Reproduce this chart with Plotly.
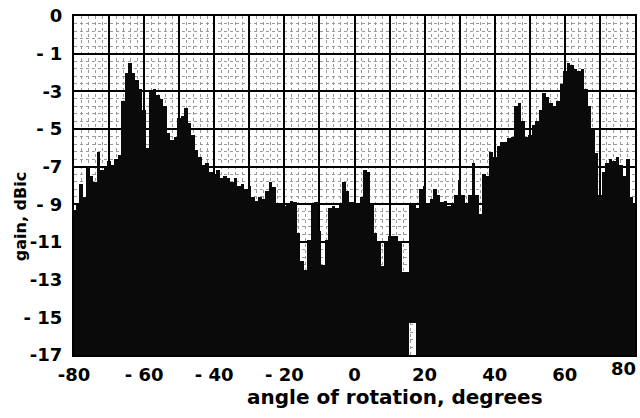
import plotly.graph_objects as go

# angle of rotation, degrees (1-degree steps)
angles = list(range(-80, 81))

# upper envelope of the gain trace, dBic
peak_gain = [
    -9.3, -9.0, -7.9, -8.6, -7.0, -7.5, -7.8, -6.2, -7.2, -7.0,   # -80 .. -71
    -6.7, -6.9, -6.6, -6.4, -3.5, -2.0, -1.5, -2.0, -2.4, -2.9,   # -70 .. -61
    -4.0, -6.0, -3.0, -2.9, -3.2, -3.4, -3.8, -5.2, -5.6, -5.4,   # -60 .. -51
    -4.4, -4.3, -3.9, -4.7, -5.3, -6.1, -6.5, -6.9, -6.8, -7.3,   # -50 .. -41
    -7.4, -7.2, -7.6, -7.5, -7.6, -7.8, -7.6, -8.0, -7.9, -8.2,   # -40 .. -31
    -8.0, -8.6, -8.8, -8.6, -8.7, -8.3, -7.8, -8.1, -9.0, -9.0,   # -30 .. -21
    -9.1, -9.0, -8.8, -8.9, -10.5, -12.0, -12.5, -10.9, -9.0, -8.9,  # -20 .. -11
    -10.4, -12.2, -10.9, -9.2, -9.1, -9.2, -9.0, -7.8, -8.3, -8.9,  # -10 .. -1
    -8.9,                                                          # 0
    -9.0, -8.6, -7.2, -7.3, -9.0, -10.5, -11.0, -12.3, -11.0, -10.7,  # 1 .. 10
    -10.7, -10.7, -11.0, -12.6, -12.6, -9.0, -9.0, -9.2, -8.2, -8.0,  # 11 .. 20
    -9.0, -8.7, -8.2, -8.5, -8.9, -8.8, -9.1, -9.0, -8.5, -7.7,   # 21 .. 30
    -8.5, -9.0, -8.5, -6.8, -8.5, -9.5, -7.4, -7.5, -6.2, -6.5,   # 31 .. 40
    -5.9, -5.7, -5.7, -5.5, -5.4, -3.8, -3.6, -4.6, -5.4, -5.3,   # 41 .. 50
    -4.8, -4.6, -4.0, -3.1, -3.3, -3.6, -3.8, -3.5, -2.6, -1.9,   # 51 .. 60
    -1.5, -1.6, -1.8, -1.9, -1.8, -2.9, -3.8, -5.0, -6.3, -8.5,   # 61 .. 70
    -7.3, -6.8, -6.6, -6.7, -6.5, -6.9, -7.5, -6.6, -8.6, -9.0,   # 71 .. 80
]

# lower envelope of the gain trace, dBic
trough_gain = [-17.0] * len(angles)
trough_gain[angles.index(16)] = -15.3
trough_gain[angles.index(17)] = -15.3

# axis tick labels
x_tick_vals = [-80, -70, -60, -50, -40, -30, -20, -10, 0, 10, 20, 30, 40, 50, 60, 70, 80]
x_tick_text = ["-80", "", "- 60", "", "- 40", "", "- 20", "", "0", "", "20", "", "40", "", "60", "", ""]
x_end_label = "80"
y_tick_vals = [1, -1, -3, -5, -7, -9, -11, -13, -15, -17]
y_tick_text = ["0", "- 1", "-3", "- 5", "-7", "- 9", "-11", "-13", "- 15", "-17"]

assert len(peak_gain) == len(angles)

fig = go.Figure()
fig.add_trace(go.Bar(
    x=angles,
    y=[p - t for p, t in zip(peak_gain, trough_gain)],
    base=trough_gain,
    width=1.0,
    marker=dict(color="#0a0a0a", line=dict(width=0)),
    hoverinfo="skip",
))

tick_font = dict(family="DejaVu Sans", size=18, color="black", weight="bold")

fig.update_layout(
    width=640, height=418,
    margin=dict(l=74, r=5, t=16, b=63),
    paper_bgcolor="white", plot_bgcolor="white",
    showlegend=False,
    bargap=0,
    xaxis=dict(
        range=[-80, 80], tickmode="array", tickvals=x_tick_vals, ticktext=x_tick_text,
        showgrid=True, gridcolor="black", gridwidth=2,
        showline=True, linecolor="black", linewidth=2, mirror=True,
        ticks="", ticklabelstandoff=2, tickfont=tick_font, zeroline=False,
        automargin=False,
        minor=dict(dtick=2, tick0=-80, showgrid=True, gridcolor="#9a9a9a",
                   griddash="dot", gridwidth=1),
    ),
    yaxis=dict(
        range=[-17, 1], tickmode="array", tickvals=y_tick_vals, ticktext=y_tick_text,
        showgrid=True, gridcolor="black", gridwidth=2,
        showline=True, linecolor="black", linewidth=2, mirror=True,
        ticks="", ticklabelstandoff=6, tickfont=tick_font, zeroline=False,
        automargin=False,
        minor=dict(dtick=0.4, tick0=1, showgrid=True, gridcolor="#9a9a9a",
                   griddash="dot", gridwidth=1),
    ),
    annotations=[
        dict(text=x_end_label, xref="x", yref="paper", x=80, y=0, xanchor="right",
             yanchor="top", xshift=3, yshift=-1, showarrow=False, font=tick_font),
        dict(text="angle of rotation, degrees", xref="paper", yref="paper",
             x=0.572, y=-0.124, xanchor="center", yanchor="middle", showarrow=False,
             font=dict(family="DejaVu Sans", size=20, color="black", weight="bold")),
        dict(text="gain, dBic", xref="paper", yref="paper", textangle=-90,
             x=-0.096, y=0.407, xanchor="center", yanchor="middle", showarrow=False,
             font=dict(family="DejaVu Sans", size=16, color="black", weight="bold")),
    ],
)

fig.write_html("out.html", config={"displayModeBar": False},
               post_script="document.body.style.margin='0';")
